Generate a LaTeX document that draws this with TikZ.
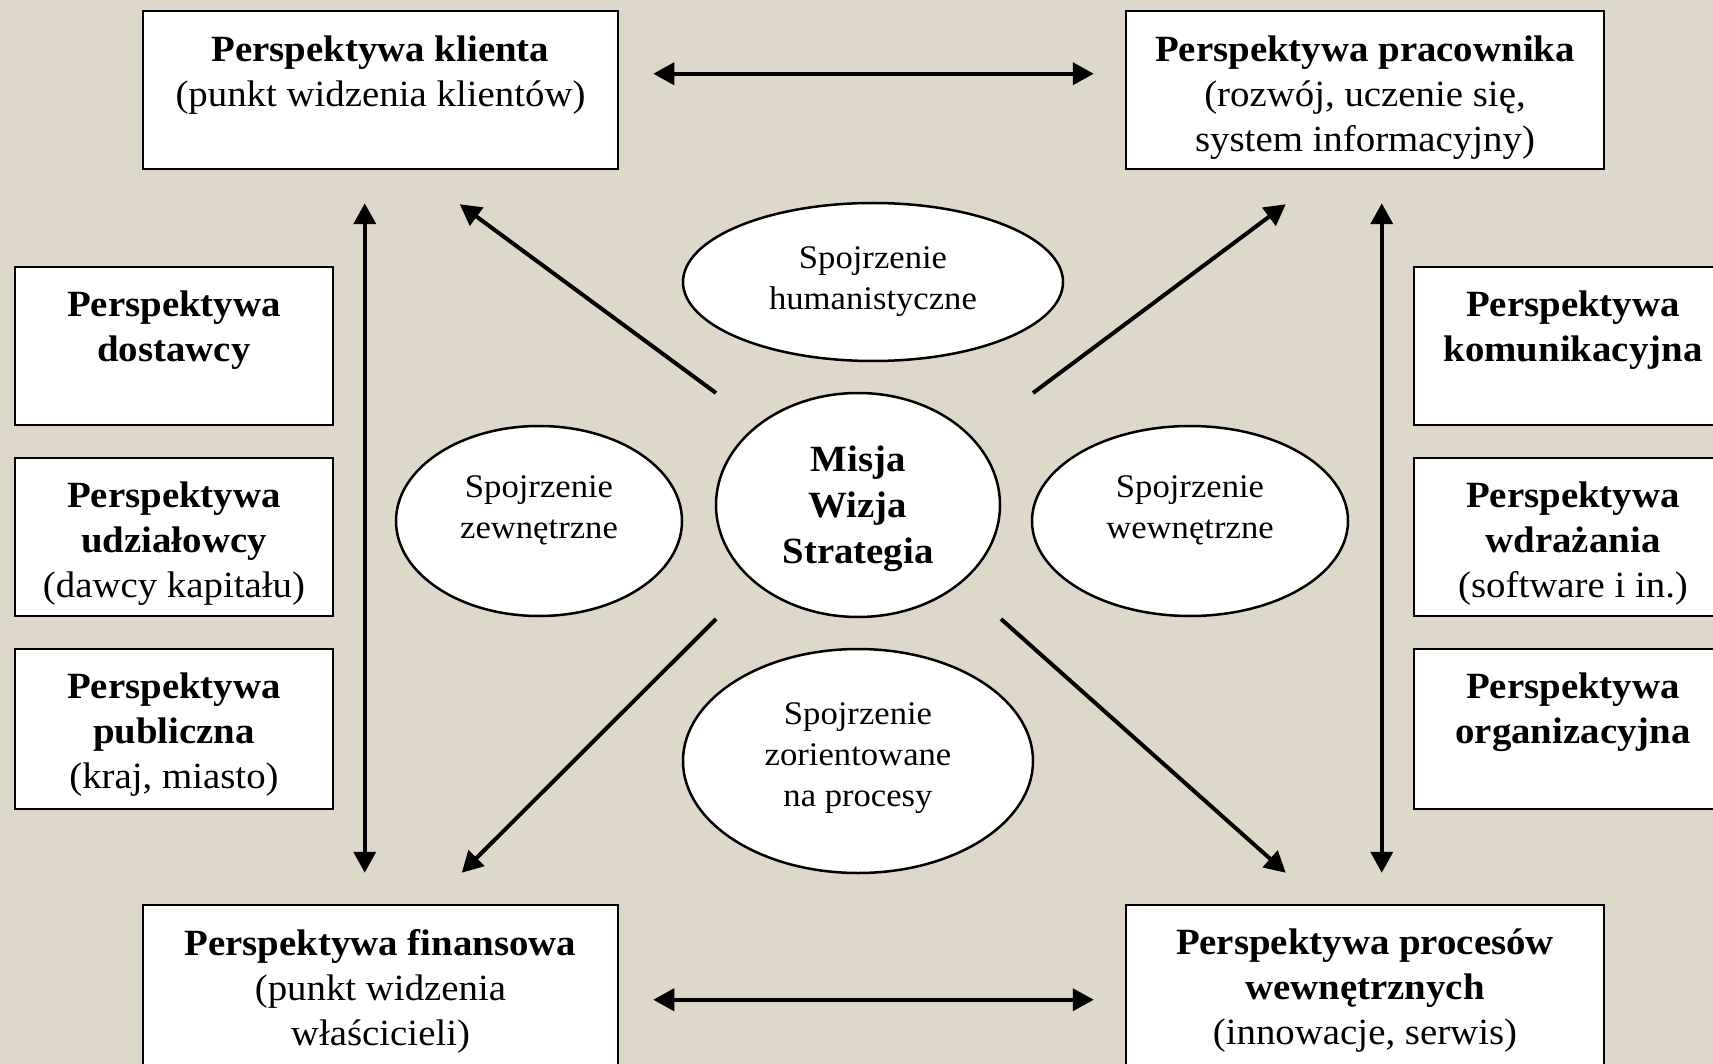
\documentclass[tikz,border=0pt]{standalone}
\usepackage{fontspec}
\setmainfont[FakeStretch=1.05]{Liberation Serif}
\usetikzlibrary{arrows.meta,shapes.geometric,calc}
\definecolor{bg}{RGB}{222,216,202}
\begin{document}
\begin{tikzpicture}[x=1pt,y=-1pt,
 box/.style={draw=black,line width=2.5pt,fill=white,rectangle,inner sep=0},
 txt/.style={align=center,inner sep=0,anchor=north,font=\fontsize{37}{45}\selectfont},
 ell/.style={draw=black,line width=2.5pt,fill=white,ellipse,inner sep=0},
 etxt/.style={align=center,inner sep=0,font=\fontsize{33}{41}\selectfont},
 mtxt/.style={align=center,inner sep=0,font=\bfseries\fontsize{37}{46}\selectfont},
 arr/.style={line width=4pt,-{Triangle[length=21pt,width=22pt]}},
 darr/.style={line width=4pt,{Triangle[length=21pt,width=22pt]}-{Triangle[length=21pt,width=22pt]}}]
\useasboundingbox (0,0) rectangle (1713,1064);
\clip (0,0) rectangle (1713,1064);
\fill[bg] (0,0) rectangle (1713,1064);

% boxes
\node[box,minimum width=475pt,minimum height=158pt] (kl) at (380.5,90) {};
\node[box,minimum width=478pt,minimum height=158pt] (pr) at (1365,90) {};
\node[box,minimum width=475pt,minimum height=175pt] (fin) at (380.5,992.5) {};
\node[box,minimum width=478pt,minimum height=175pt] (pw) at (1365,992.5) {};
\node[box,minimum width=318pt,minimum height=158pt] (l1) at (174,346) {};
\node[box,minimum width=318pt,minimum height=158pt] (l2) at (174,537) {};
\node[box,minimum width=318pt,minimum height=160pt] (l3) at (174,729) {};
\node[box,minimum width=318pt,minimum height=158pt] (r1) at (1573,346) {};
\node[box,minimum width=318pt,minimum height=158pt] (r2) at (1573,537) {};
\node[box,minimum width=318pt,minimum height=160pt] (r3) at (1573,729) {};

% box texts
\node[txt] (klT) at ([yshift=-26pt]kl.north) {\textbf{Perspektywa klienta}\\(punkt widzenia klientów)};
\node[txt] (prT) at ([yshift=-26pt]pr.north) {\textbf{Perspektywa pracownika}\\(rozwój, uczenie się,\\system informacyjny)};
\node[txt] (finT) at ([yshift=-25pt]fin.north) {\textbf{Perspektywa finansowa}\\(punkt widzenia\\właścicieli)};
\node[txt] (pwT) at ([yshift=-25pt]pw.north) {\textbf{Perspektywa procesów}\\\textbf{wewnętrznych}\\(innowacje, serwis)};
\node[txt] (l1T) at ([yshift=-25pt]l1.north) {\textbf{Perspektywa}\\\textbf{dostawcy}};
\node[txt] (l2T) at ([yshift=-25pt]l2.north) {\textbf{Perspektywa}\\\textbf{udziałowcy}\\(dawcy kapitału)};
\node[txt] (l3T) at ([yshift=-25pt]l3.north) {\textbf{Perspektywa}\\\textbf{publiczna}\\(kraj, miasto)};
\node[txt] (r1T) at ([yshift=-25pt]r1.north) {\textbf{Perspektywa}\\\textbf{komunikacyjna}};
\node[txt] (r2T) at ([yshift=-25pt]r2.north) {\textbf{Perspektywa}\\\textbf{wdrażania}\\(software i in.)};
\node[txt] (r3T) at ([yshift=-25pt]r3.north) {\textbf{Perspektywa}\\\textbf{organizacyjna}};

% ellipses
\node[ell,minimum width=380pt,minimum height=158pt] (hum) at (873,282) {};
\node[ell,minimum width=284pt,minimum height=224pt] (mis) at (858,505) {};
\node[ell,minimum width=286pt,minimum height=190pt] (zew) at (539,521) {};
\node[ell,minimum width=316pt,minimum height=190pt] (wew) at (1190,521) {};
\node[ell,minimum width=350pt,minimum height=224pt] (proc) at (858,761) {};

\node[etxt] (humT) at (hum.center) {Spojrzenie\\humanistyczne};
\node[mtxt] (misT) at ([yshift=-4pt]mis.center) {Misja\\Wizja\\Strategia};
\node[etxt] (zewT) at ([yshift=11pt]zew.center) {Spojrzenie\\zewnętrzne};
\node[etxt] (wewT) at ([yshift=11pt]wew.center) {Spojrzenie\\wewnętrzne};
\node[etxt] (procT) at ([yshift=3pt]proc.center) {Spojrzenie\\zorientowane\\na procesy};

% arrows
\draw[darr] ($(kl.north east)+(34,64)$) -- ($(pr.north west)+(-31,64)$);
\draw[darr] ($(fin.north east)+(34,96)$) -- ($(pw.north west)+(-31,96)$);
\draw[darr] ($(kl.south west)+(223,33)$) -- ($(fin.north west)+(223,-31)$);
\draw[darr] ($(pr.south west)+(257,33)$) -- ($(pw.north west)+(257,-31)$);
\draw[arr] ($(mis.center)+(-142,-112)$) -- ($(kl.south west)+(318,34)$);
\draw[arr] ($(mis.center)+(175,-112)$) -- ($(pr.south west)+(161,34)$);
\draw[arr] ($(mis.center)+(-142,114)$) -- ($(fin.north west)+(320,-31)$);
\draw[arr] ($(mis.center)+(143,114)$) -- ($(pw.north west)+(161,-31)$);
\end{tikzpicture}
\end{document}
